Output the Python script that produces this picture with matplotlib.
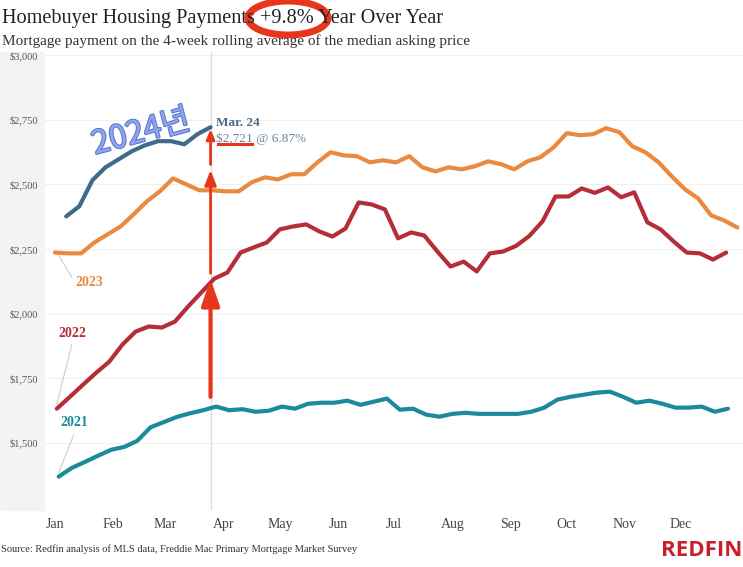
import numpy as np
import matplotlib
matplotlib.use("Agg")
import matplotlib.pyplot as plt
import matplotlib.patheffects as pe
from matplotlib.patches import Ellipse, Rectangle

# weekly payments, $ per month
pay2024 = [2376, 2415, 2516, 2566, 2597, 2628, 2651, 2667, 2667, 2655, 2694, 2721]
pay2023 = [2236, 2233, 2233, 2275, 2306, 2337, 2384, 2434, 2473, 2523, 2500, 2477,
           2477, 2473, 2473, 2508, 2527, 2519, 2539, 2539, 2585, 2624, 2612, 2609,
           2585, 2593, 2585, 2609, 2566, 2550, 2566, 2558, 2570, 2589, 2578, 2558,
           2589, 2605, 2643, 2698, 2690, 2694, 2717, 2702, 2647, 2624, 2585, 2531,
           2481, 2446, 2380, 2360, 2333]
pay2022 = [1632, 1678, 1725, 1771, 1814, 1880, 1930, 1950, 1946, 1969, 2027, 2081,
           2135, 2159, 2236, 2256, 2275, 2326, 2337, 2345, 2318, 2298, 2329, 2430,
           2422, 2403, 2291, 2314, 2302, 2240, 2182, 2201, 2163, 2233, 2240, 2262,
           2300, 2356, 2453, 2453, 2484, 2467, 2488, 2450, 2469, 2353, 2326, 2279,
           2236, 2233, 2209, 2236]
pay2021 = [1369, 1403, 1426, 1450, 1473, 1484, 1508, 1560, 1580, 1600, 1614, 1626,
           1640, 1626, 1630, 1620, 1624, 1640, 1632, 1651, 1655, 1655, 1663, 1647,
           1659, 1671, 1628, 1632, 1609, 1601, 1612, 1616, 1612, 1612, 1612, 1612,
           1620, 1636, 1667, 1678, 1686, 1694, 1698, 1678, 1655, 1663, 1651, 1636,
           1636, 1640, 1620, 1632]
# day of year of first weekly point
first_day = {"2024": 6, "2023": 0, "2022": 1, "2021": 2}
months = ["Jan", "Feb", "Mar", "Apr", "May", "Jun", "Jul", "Aug", "Sep", "Oct", "Nov", "Dec"]
month_days = [0, 31, 59, 90, 120, 151, 181, 212, 243, 273, 304, 334]
yticks = [1500, 1750, 2000, 2250, 2500, 2750, 3000]

def days(key, vals):
    return first_day[key] + 7 * np.arange(len(vals))

serif = "Liberation Serif"
fig = plt.figure(figsize=(7.43, 5.67), dpi=100)
W, H = 743, 567
ax = fig.add_axes([45 / W, 1 - 510 / H, 698 / W, 458 / H])

# gray band behind the y labels
fig.patches.append(Rectangle((0, 1 - 510 / H), 45 / W, 458 / H, transform=fig.transFigure,
                             color="#f3f3f3", zorder=-5))

ax.set_xlim(-5.3, 367)
ax.set_ylim(1240, 3012)
for s in ax.spines.values():
    s.set_visible(False)
ax.set_yticks(yticks)
ax.set_yticklabels(["${:,}".format(v) for v in yticks], fontsize=7.5, family=serif, color="#555555")
ax.tick_params(axis="y", length=0, pad=5)
ax.set_xticks(month_days)
ax.set_xticklabels(months, fontsize=10, family=serif, color="#444444")
ax.tick_params(axis="x", length=0, pad=6)
ax.grid(axis="y", color="#f0f0f0", linewidth=0.8)
ax.set_axisbelow(True)

ax.axvline(83, color="#dddddd", linewidth=1, zorder=1)

ax.plot(days("2021", pay2021), pay2021, color="#1d8a9c", linewidth=3, solid_capstyle="round")
ax.plot(days("2022", pay2022), pay2022, color="#b52d39", linewidth=3, solid_capstyle="round")
ax.plot(days("2023", pay2023), pay2023, color="#e98a40", linewidth=3, solid_capstyle="round")
ax.plot(days("2024", pay2024), pay2024, color="#3f6b8a", linewidth=3, solid_capstyle="round")

# series labels with thin leaders
ax.text(11, 2105, "2023", color="#e98a40", fontsize=10, weight="bold", family=serif)
ax.plot([2, 9], [2225, 2140], color="#cccccc", linewidth=0.8)
ax.text(2, 1910, "2022", color="#b52d39", fontsize=10, weight="bold", family=serif)
ax.plot([1, 9], [1650, 1880], color="#cccccc", linewidth=0.8)
ax.text(3, 1565, "2021", color="#1d8a9c", fontsize=10, weight="bold", family=serif)
ax.plot([2, 10], [1385, 1530], color="#cccccc", linewidth=0.8)

ax.text(86, 2727, "Mar. 24", color="#4b6a85", fontsize=9.5, weight="bold", family=serif)
ax.text(86, 2665, "$2,721 @ 6.87%", color="#6d8499", fontsize=9.5, family=serif)

# red hand-drawn marks
red = "#e8361d"
ax.plot([87, 105], [2655, 2655], color=red, linewidth=2.2)
ax.annotate("", xy=(83, 2145), xytext=(83, 1667),
            arrowprops=dict(arrowstyle="-|>,head_length=1.6,head_width=0.55", color=red, lw=3))
ax.annotate("", xy=(83, 2566), xytext=(83, 2145),
            arrowprops=dict(arrowstyle="-|>,head_length=0.9,head_width=0.35", color=red, lw=2))
ax.annotate("", xy=(83, 2725), xytext=(83, 2566),
            arrowprops=dict(arrowstyle="-|>,head_length=0.6,head_width=0.25", color=red, lw=2))

t = ax.text(46, 2700, "2024년", color="#8fa6e8", fontsize=23, rotation=15,
            family=["Noto Sans CJK KR", "DejaVu Sans"], ha="center", va="center")
t.set_path_effects([pe.withStroke(linewidth=1.5, foreground="#5b76d2")])

# titles
fig.text(2 / W, 1 - 19 / H, "Homebuyer Housing Payments +9.8% Year Over Year", fontsize=14.6,
         family=serif, color="#222222", va="center")
fig.text(2 / W, 1 - 41 / H, "Mortgage payment on the 4-week rolling average of the median asking price",
         fontsize=11, family=serif, color="#333333", va="center")
fig.patches.append(Ellipse((288 / W, 1 - 18 / H), 80 / W, 34 / H, transform=fig.transFigure,
                           fill=False, edgecolor=red, linewidth=5))
fig.text(1 / W, 1 - 549 / H, "Source: Redfin analysis of MLS data, Freddie Mac Primary Mortgage Market Survey",
         fontsize=7.5, family=serif, color="#333333", va="center")
fig.text(742 / W, 1 - 551 / H, "REDFIN", fontsize=16, weight="bold", family="Open Sans",
         color="#c8202a", ha="right", va="center")

fig.savefig("out.png", dpi=100, facecolor="white")
